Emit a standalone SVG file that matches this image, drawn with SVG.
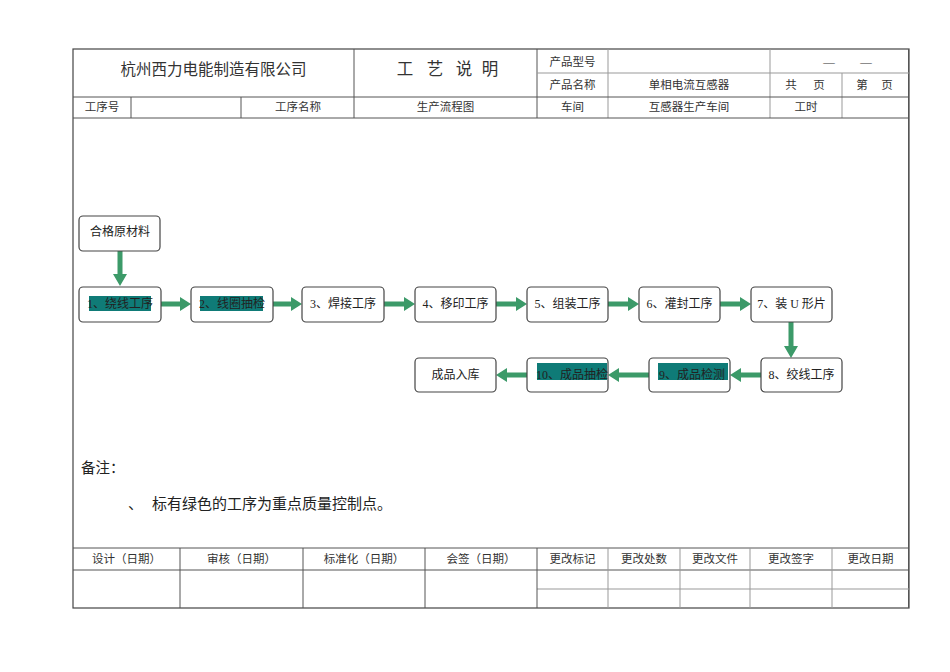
<svg xmlns="http://www.w3.org/2000/svg" width="950" height="672" viewBox="0 0 950 672">
<style>
.t{font-family:"Liberation Serif","Noto Sans CJK SC",serif;fill:#333;}
.h{font-size:11.5px;text-anchor:middle;}
.n{font-size:12px;text-anchor:middle;fill:#222;}
.ln{stroke:#555;stroke-width:1;fill:none;}
.lt{stroke:#999;stroke-width:1;fill:none;}
.box{fill:#fff;stroke:#444;stroke-width:1.2;}
.hl{fill:#0f7b77;}
.ar{fill:#3c9a69;}
</style>
<rect width="950" height="672" fill="#fff"/>
<g id="frame">
<rect x="73" y="49" width="836" height="559" fill="none" stroke="#444" stroke-width="1.2"/>
<line class="ln" x1="908.5" y1="49" x2="908.5" y2="608" stroke-width="2"/>
<line class="ln" x1="354" y1="49" x2="354" y2="118"/>
<line class="ln" x1="537" y1="49" x2="537" y2="118"/>
<line class="lt" x1="608" y1="49" x2="608" y2="118"/>
<line class="lt" x1="770" y1="49" x2="770" y2="118"/>
<line class="lt" x1="842" y1="73" x2="842" y2="118"/>
<line class="lt" x1="537" y1="73" x2="909" y2="73"/>
<line class="ln" x1="73" y1="97" x2="909" y2="97"/>
<line class="ln" x1="73" y1="118" x2="909" y2="118"/>
<line class="ln" x1="131" y1="97" x2="131" y2="118"/>
<line class="ln" x1="241" y1="97" x2="241" y2="118"/>
<line class="ln" x1="73" y1="548" x2="909" y2="548"/>
<line class="ln" x1="73" y1="570" x2="909" y2="570"/>
<line class="lt" x1="537" y1="589" x2="909" y2="589"/>
<line class="ln" x1="180" y1="548" x2="180" y2="608"/>
<line class="ln" x1="303" y1="548" x2="303" y2="608"/>
<line class="ln" x1="425" y1="548" x2="425" y2="608"/>
<line class="ln" x1="537" y1="548" x2="537" y2="608"/>
<line class="lt" x1="608" y1="548" x2="608" y2="608"/>
<line class="lt" x1="680" y1="548" x2="680" y2="608"/>
<line class="lt" x1="750" y1="548" x2="750" y2="608"/>
<line class="lt" x1="832" y1="548" x2="832" y2="608"/>
</g>
<g id="header-text" class="t">
<text x="213.5" y="75" font-size="15.5" text-anchor="middle">杭州西力电能制造有限公司</text>
<text y="75" font-size="16.5" text-anchor="middle"><tspan x="405">工</tspan><tspan x="435">艺</tspan><tspan x="464">说</tspan><tspan x="490">明</tspan></text>
<text class="h" x="572.5" y="66">产品型号</text>
<text class="h" x="829" y="66">—</text>
<text class="h" x="866" y="66">—</text>
<text class="h" x="572.5" y="89">产品名称</text>
<text class="h" x="689" y="89">单相电流互感器</text>
<text class="h" x="791" y="89">共</text>
<text class="h" x="819" y="89">页</text>
<text class="h" x="862" y="89">第</text>
<text class="h" x="887" y="89">页</text>
<text class="h" x="102" y="111">工序号</text>
<text class="h" x="298" y="111">工序名称</text>
<text class="h" x="445.5" y="111">生产流程图</text>
<text class="h" x="572.5" y="111">车间</text>
<text class="h" x="689" y="111">互感器生产车间</text>
<text class="h" x="806" y="111">工时</text>
</g>
<g id="connectors">
<polygon class="ar" points="117.5,251 122.5,251 122.5,274 127,274 120,286 113,274 117.5,274"/>
<polygon class="ar" points="161,301.5 180,301.5 180,297 191,304 180,311 180,306.5 161,306.5"/>
<polygon class="ar" points="273,301.5 291,301.5 291,297 302,304 291,311 291,306.5 273,306.5"/>
<polygon class="ar" points="384,301.5 404,301.5 404,297 415,304 404,311 404,306.5 384,306.5"/>
<polygon class="ar" points="496,301.5 516,301.5 516,297 527,304 516,311 516,306.5 496,306.5"/>
<polygon class="ar" points="608,301.5 628,301.5 628,297 639,304 628,311 628,306.5 608,306.5"/>
<polygon class="ar" points="720,301.5 740,301.5 740,297 751,304 740,311 740,306.5 720,306.5"/>
<polygon class="ar" points="788.5,322 793.5,322 793.5,346 798,346 791,358 784,346 788.5,346"/>
<polygon class="ar" points="761,372.5 741,372.5 741,368 730,375 741,382 741,377.5 761,377.5"/>
<polygon class="ar" points="649,372.5 619,372.5 619,368 608,375 619,382 619,377.5 649,377.5"/>
<polygon class="ar" points="527,372.5 507,372.5 507,368 496,375 507,382 507,377.5 527,377.5"/>
</g>
<g id="n0" class="t"><rect class="box" x="79" y="216" width="81" height="35" rx="4"/><text class="n" x="120" y="236">合格原材料</text></g>
<g id="n1" class="t"><rect class="box" x="79" y="287" width="82" height="35" rx="4"/><rect class="hl" x="89" y="296" width="62" height="15"/><text class="n" x="120" y="308">1、绕线工序</text></g>
<g id="n2" class="t"><rect class="box" x="191" y="287" width="82" height="35" rx="4"/><rect class="hl" x="200" y="296" width="63" height="15"/><text class="n" x="232" y="308">2、线圈抽检</text></g>
<g id="n3" class="t"><rect class="box" x="302" y="287" width="82" height="35" rx="4"/><text class="n" x="343" y="308">3、焊接工序</text></g>
<g id="n4" class="t"><rect class="box" x="415" y="287" width="81" height="35" rx="4"/><text class="n" x="455.5" y="308">4、移印工序</text></g>
<g id="n5" class="t"><rect class="box" x="527" y="287" width="81" height="35" rx="4"/><text class="n" x="567.5" y="308">5、组装工序</text></g>
<g id="n6" class="t"><rect class="box" x="639" y="287" width="81" height="35" rx="4"/><text class="n" x="679.5" y="308">6、灌封工序</text></g>
<g id="n7" class="t"><rect class="box" x="751" y="287" width="81" height="35" rx="4"/><text class="n" x="791.5" y="308">7、装 U 形片</text></g>
<g id="n8" class="t"><rect class="box" x="761" y="358" width="81" height="34" rx="4"/><text class="n" x="801.5" y="379">8、绞线工序</text></g>
<g id="n9" class="t"><rect class="box" x="649" y="358" width="81" height="34" rx="4"/><rect class="hl" x="658" y="363" width="70" height="17"/><text class="n" x="692" y="379">9、成品检测</text></g>
<g id="n10" class="t"><rect class="box" x="527" y="358" width="81" height="34" rx="4"/><rect class="hl" x="537" y="363" width="70" height="17"/><text class="n" x="572" y="379">10、成品抽检</text></g>
<g id="n11" class="t"><rect class="box" x="415" y="358" width="81" height="34" rx="4"/><text class="n" x="455.5" y="379">成品入库</text></g>
<g id="notes" class="t">
<text x="81" y="473" font-size="14.5" fill="#222">备注：</text>
<text x="128" y="509" font-size="15" fill="#222">、</text>
<text x="152" y="509" font-size="15" fill="#222">标有绿色的工序为重点质量控制点。</text>
</g>
<g id="footer-text" class="t">
<text class="h" x="126.5" y="563">设计（日期）</text>
<text class="h" x="241.5" y="563">审核（日期）</text>
<text class="h" x="364" y="563">标准化（日期）</text>
<text class="h" x="481" y="563">会签（日期）</text>
<text class="h" x="572.5" y="563">更改标记</text>
<text class="h" x="644" y="563">更改处数</text>
<text class="h" x="715" y="563">更改文件</text>
<text class="h" x="791" y="563">更改签字</text>
<text class="h" x="870.5" y="563">更改日期</text>
</g>
</svg>
